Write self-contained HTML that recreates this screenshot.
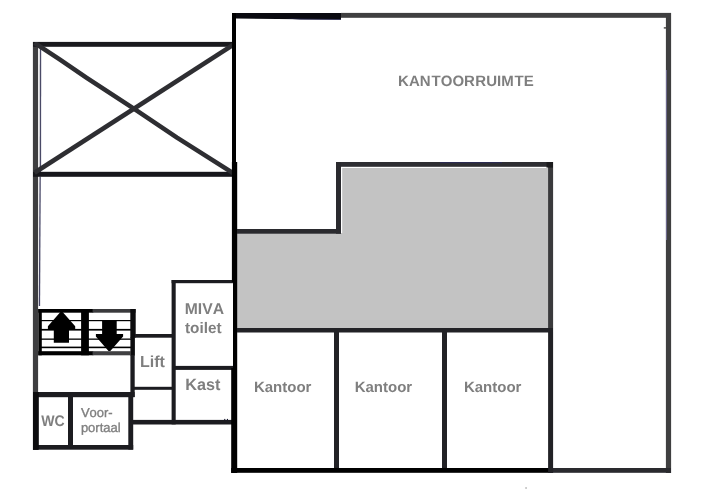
<!DOCTYPE html>
<html lang="nl">
<head>
<meta charset="utf-8">
<title>Plattegrond kantoorruimte</title>
<style>
html,body{margin:0;padding:0;background:#fff;}
body{width:704px;height:491px;overflow:hidden;}
svg{display:block;}
text{font-family:"Liberation Sans",Arial,Helvetica,sans-serif;fill:#7f7f7f;font-kerning:none;}
.b{font-weight:bold;}
</style>
</head>
<body>
<svg width="704" height="491" viewBox="0 0 704 491">
<rect width="704" height="491" fill="#ffffff"/>

<!-- grey core -->
<polygon points="342.2,168 549,168 549,329 236,329 236,233 342.2,233" fill="#c3c3c3"/>

<!-- left annex -->
<clipPath id="xc"><rect x="33" y="42" width="201" height="135"/></clipPath>
<g id="annex">
  <rect x="32.9" y="42" width="5.2" height="408" fill="#3e3e40"/>
  <polygon points="39.8,47 41.2,47 41.1,172 39.7,172" fill="#2a2a4c" opacity=".85"/>
  <polygon points="39.5,176.5 40.8,176.5 40.1,306 38.8,306" fill="#24244a" opacity=".85"/>
  <rect x="33" y="41.9" width="199.5" height="4.9" fill="#1a1a1e"/>
  <rect x="33" y="171.8" width="199.5" height="5" fill="#17171c"/>
  <polyline clip-path="url(#xc)" points="34.5,42.9 60,59.6 86.7,77.8 134.2,108.9 177,137.6 233,173" fill="none" stroke="#2e2e32" stroke-width="4.6" stroke-linejoin="round"/>
  <line clip-path="url(#xc)" x1="34.5" y1="172.8" x2="233" y2="45" stroke="#2e2e32" stroke-width="4.6"/>
</g>

<!-- stairs -->
<g id="stairs">
  <g fill="#000">
    <rect x="41" y="320" width="90" height="1.2"/>
    <rect x="41" y="328.9" width="90" height="1.7"/>
    <rect x="41" y="338.5" width="90" height="1.3"/>
    <rect x="41" y="346.6" width="90" height="1.6"/>
  </g>
  <rect x="38.3" y="309" width="55" height="3.7" fill="#000"/>
  <rect x="92.6" y="309" width="43" height="3.7" fill="#3a3a3c"/>
  <rect x="38.3" y="351.2" width="55" height="4.1" fill="#000"/>
  <rect x="92.6" y="351.2" width="38" height="4.1" fill="#404042"/>
  <rect x="38.3" y="309" width="3.5" height="46.3" fill="#000"/>
  <rect x="81.1" y="309" width="7.8" height="46.3" fill="#000"/>
  <rect x="130.3" y="309" width="5.4" height="28.7" fill="#0c0c0e"/>
  <rect x="130.4" y="337" width="4.5" height="18.5" fill="#0c0c0e"/>
  <polygon fill="#000" points="61.5,310.8 75.2,326.3 75.2,329.5 69,329.5 69,342.7 53.8,342.7 53.8,329.5 47.9,329.5 47.9,326.3"/>
  <polygon fill="#000" points="102.1,320.5 116.7,320.5 116.7,334 123.1,334 123.1,336.5 110.3,350.9 108.5,350.9 95.9,336.5 95.9,334 102.1,334"/>
</g>

<!-- small rooms -->
<g id="rooms" fill="#1c1c20">
  <rect x="130.4" y="355" width="4.3" height="42"/>
  <rect x="128.3" y="392" width="4.9" height="57.6"/>
  <rect x="33" y="392" width="101.6" height="5.2"/>
  <rect x="33" y="445" width="100.2" height="4.7"/>
  <rect x="33" y="392" width="5.8" height="57.7" fill="#0c0c0e"/>
  <rect x="68" y="397" width="5" height="48"/>
  <rect x="135" y="334" width="37" height="3.7"/>
  <rect x="134" y="386.8" width="38" height="3"/>
  <rect x="171.6" y="280" width="4.1" height="144.4"/>
  <rect x="171.6" y="280" width="62" height="3.2"/>
  <rect x="175" y="365.9" width="58" height="4"/>
  <rect x="133" y="419.9" width="99" height="4.6"/>
</g>

<!-- main building -->
<g id="main">
  <polygon points="232,13 341,13 341,19.6 300,19.3 236,18.6 232,18.6" fill="#0a0a10"/>
  <polygon points="285,18.6 341,19 341,19.8 300,19.5" fill="#20204a"/>
  <rect x="341" y="12.9" width="330" height="4.9" fill="#3f3f40"/>
  <rect x="665.9" y="13" width="5.2" height="460" fill="#3f3f40"/>
  <rect x="553" y="468" width="118" height="4.8" fill="#2a2a2e"/>
  <rect x="231.2" y="468" width="321.8" height="4.8" fill="#000"/>
  <rect x="232" y="13" width="4" height="150" fill="#000"/>
  <polygon points="231.9,162 237.2,162 237.2,473 231.2,473 231.2,368 233,368 233,282 231.9,282" fill="#000"/>
  <rect x="336" y="162" width="217" height="4.8" fill="#2e2e32"/>
  <rect x="336" y="162" width="5" height="71.7" fill="#2a2a2e"/>
  <rect x="237" y="229" width="104" height="4.7" fill="#2a2a2e"/>
  <rect x="548.1" y="162" width="5" height="170" fill="#3a3a3c"/>
  <rect x="548.1" y="332" width="5" height="141" fill="#222226"/>
  <rect x="237" y="328" width="316" height="4.5" fill="#222226"/>
  <rect x="334" y="332" width="5" height="136" fill="#222226"/>
  <rect x="442" y="332" width="5" height="136" fill="#222226"/>
</g>


<!-- small marks -->
<g id="marks">
  <rect x="224.2" y="418.9" width="1.1" height="1.6" fill="#15152a"/>
  <rect x="226.9" y="418.9" width="1.1" height="1.6" fill="#15152a"/>
  <rect x="663.8" y="27.2" width="2.6" height="1.4" fill="#444"/>
  <rect x="525.4" y="487.4" width="1.3" height="1.2" fill="#888"/>
  <rect x="546.5" y="162" width="6.5" height="5.6" fill="#1c1c1e"/>
  <rect x="665.9" y="70" width="0.9" height="170" fill="#8f88c4" opacity=".7"/>
  <rect x="440" y="162" width="62" height="1.2" fill="#2a2a66" opacity=".6"/>
</g>

<!-- labels -->
<g id="labels" style="filter:grayscale(1)" text-rendering="geometricPrecision">
  <text class="b" x="398.1" y="86" font-size="15" dx="0 0 0 0.9 0 0 0 0.4 0 0 0 0.9 0">KANTOORRUIMTE</text>
  <text class="b" x="253.9" y="391.8" font-size="15">Kantoor</text>
  <text class="b" x="354.7" y="391.8" font-size="15">Kantoor</text>
  <text class="b" x="463.9" y="391.8" font-size="15">Kantoor</text>
  <text class="b" x="184.8" y="313.9" font-size="15.7">MIVA</text>
  <text class="b" x="185.0" y="332.8" font-size="15.3">toilet</text>
  <text class="b" x="140" y="366.5" font-size="16">Lift</text>
  <text class="b" x="185.2" y="389.5" font-size="16.2">Kast</text>
  <text class="b" x="41.3" y="425.8" font-size="15.4" textLength="23.5" lengthAdjust="spacingAndGlyphs">WC</text>
  <text x="80.9" y="417.2" font-size="13" stroke="#7f7f7f" stroke-width="0.35">Voor-</text>
  <text x="80.9" y="431.8" font-size="13" stroke="#7f7f7f" stroke-width="0.35">portaal</text>
</g>
</svg>
</body>
</html>
